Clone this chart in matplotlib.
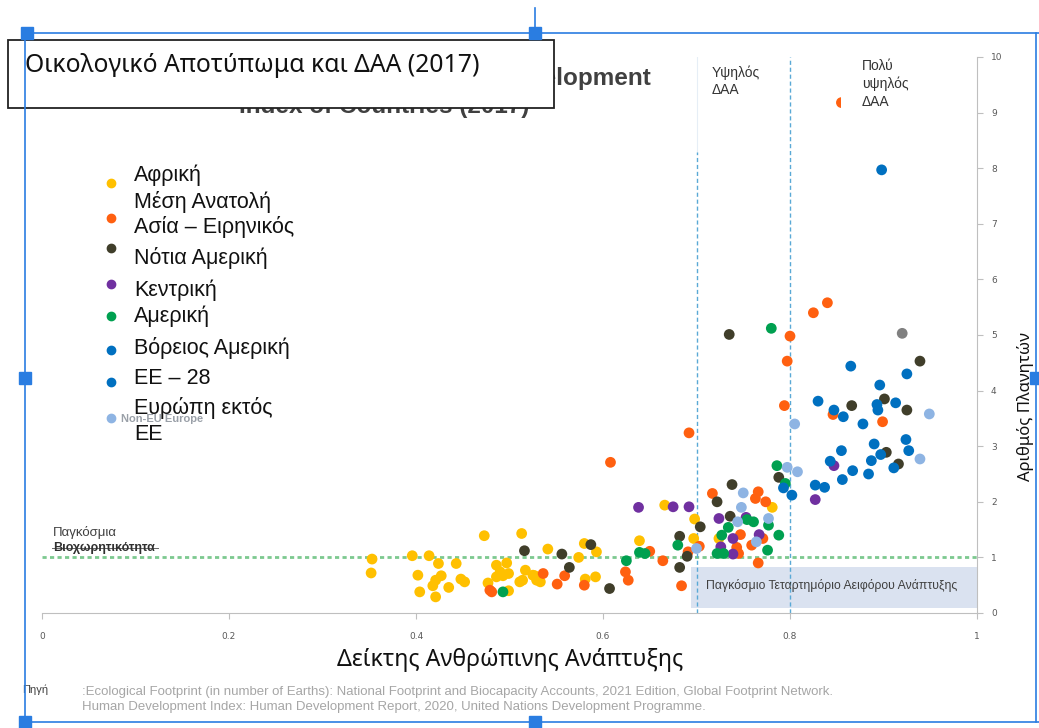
import matplotlib.pyplot as plt
from matplotlib.patches import Rectangle
from matplotlib.lines import Line2D

# ---- data (HDI, ecological footprint in number of Earths) ----
africa_hdi = [0.353, 0.352, 0.396, 0.414, 0.424, 0.402, 0.427, 0.421, 0.418, 0.404,
              0.421, 0.435, 0.443, 0.448, 0.452, 0.473, 0.477, 0.486, 0.497, 0.490,
              0.499, 0.486, 0.493, 0.499, 0.513, 0.517, 0.514, 0.511, 0.529, 0.533,
              0.527, 0.541, 0.574, 0.580, 0.593, 0.581, 0.592, 0.639, 0.666, 0.698,
              0.697, 0.724, 0.781, 0.525]
africa_ef = [0.97, 0.72, 1.03, 1.03, 0.89, 0.68, 0.67, 0.59, 0.49, 0.38,
             0.29, 0.46, 0.89, 0.61, 0.56, 1.39, 0.54, 0.86, 0.90, 0.74,
             0.71, 0.65, 0.67, 0.40, 1.43, 0.77, 0.59, 0.56, 0.59, 0.56,
             0.67, 1.15, 1.00, 1.25, 1.10, 0.61, 0.65, 1.30, 1.94, 1.69,
             1.34, 1.34, 1.90, 0.68]

mideast_hdi = [0.481, 0.479, 0.536, 0.559, 0.551, 0.580, 0.624, 0.627, 0.608, 0.650,
               0.664, 0.691, 0.684, 0.703, 0.692, 0.717, 0.766, 0.763, 0.774, 0.747,
               0.771, 0.743, 0.759, 0.745, 0.766, 0.800, 0.797, 0.794, 0.825, 0.840,
               0.846, 0.899, 0.855]
mideast_ef = [0.38, 0.41, 0.71, 0.67, 0.52, 0.50, 0.74, 0.59, 2.71, 1.11,
              0.94, 1.10, 0.49, 1.20, 3.24, 2.15, 2.18, 2.06, 2.00, 1.41,
              1.34, 1.18, 1.22, 1.07, 0.90, 4.98, 4.53, 3.73, 5.40, 5.58,
              3.57, 3.44, 9.18]

asia_hdi = [0.516, 0.556, 0.564, 0.587, 0.607, 0.682, 0.690, 0.682, 0.704, 0.722,
            0.738, 0.736, 0.735, 0.788, 0.866, 0.901, 0.925, 0.939, 0.903, 0.916]
asia_ef = [1.12, 1.06, 0.82, 1.23, 0.44, 1.38, 1.02, 0.82, 1.55, 2.00,
           2.31, 1.74, 5.01, 2.44, 3.73, 3.85, 3.65, 4.53, 2.89, 2.68]

samerica_hdi = [0.638, 0.675, 0.692, 0.724, 0.753, 0.739, 0.767, 0.726, 0.739, 0.847, 0.827]
samerica_ef = [1.90, 1.91, 1.91, 1.70, 1.72, 1.34, 1.41, 1.19, 1.06, 2.65, 2.04]

camerica_hdi = [0.493, 0.625, 0.639, 0.645, 0.680, 0.734, 0.754, 0.761, 0.777, 0.727,
                0.788, 0.722, 0.729, 0.776, 0.786, 0.795, 0.780]
camerica_ef = [0.38, 0.94, 1.09, 1.07, 1.22, 1.54, 1.68, 1.64, 1.58, 1.40,
               1.40, 1.07, 1.07, 1.13, 2.65, 2.33, 5.12]

namerica_hdi = [0.925]
namerica_ef = [4.30]

eu_hdi = [0.793, 0.802, 0.865, 0.896, 0.830, 0.893, 0.894, 0.913, 0.847, 0.857,
          0.878, 0.890, 0.924, 0.927, 0.897, 0.855, 0.843, 0.887, 0.911, 0.867,
          0.884, 0.856, 0.827, 0.837, 0.898]
eu_ef = [2.25, 2.12, 4.44, 4.10, 3.81, 3.75, 3.65, 3.78, 3.65, 3.53,
         3.40, 3.04, 3.12, 2.92, 2.85, 2.92, 2.73, 2.74, 2.61, 2.56,
         2.50, 2.40, 2.30, 2.26, 7.97]

noneu_hdi = [0.700, 0.750, 0.748, 0.744, 0.777, 0.764, 0.797, 0.808, 0.805, 0.949, 0.939]
noneu_ef = [1.16, 2.16, 1.90, 1.64, 1.70, 1.28, 2.62, 2.54, 3.40, 3.58, 2.77]

other_hdi = [0.920]
other_ef = [5.03]

series = [
    ("Αφρική", africa_hdi, africa_ef, "#FFC000"),
    ("Μέση Ανατολή", mideast_hdi, mideast_ef, "#FF6010"),
    ("Ασία – Ειρηνικός", asia_hdi, asia_ef, "#403E2A"),
    ("Νότια Αμερική", samerica_hdi, samerica_ef, "#7030A0"),
    ("Κεντρική Αμερική", camerica_hdi, camerica_ef, "#00A050"),
    ("Βόρειος Αμερική", namerica_hdi, namerica_ef, "#0070C0"),
    ("ΕΕ – 28", eu_hdi, eu_ef, "#0070C0"),
    ("Ευρώπη εκτός ΕΕ", noneu_hdi, noneu_ef, "#8EB4E3"),
    ("", other_hdi, other_ef, "#808080"),
]

legend_lines = ["Αφρική", "Μέση Ανατολή", "Ασία – Ειρηνικός", "Νότια Αμερική", "Κεντρική",
                "Αμερική", "Βόρειος Αμερική", "ΕΕ – 28", "Ευρώπη εκτός", "ΕΕ"]
legend_line_y = [175, 202, 227, 258, 290, 316, 348, 378, 408, 434]
legend_marker_y = [183, 218, 248, 284, 316, 350, 382, 418]

x_ticks = [0, 0.2, 0.4, 0.6, 0.8, 1]
x_tick_labels = ["0", "0.2", "0.4", "0.6", "0.8", "1"]
y_ticks = list(range(0, 11))

W, H = 1039, 728
GREEK = "Noto Sans"
LATIN = "Liberation Sans"


def fx(px):
    return px / W


def fy(py):
    return 1 - py / H


fig = plt.figure(figsize=(W / 100, H / 100), dpi=100)
ax = fig.add_axes([fx(42), fy(613), fx(977) - fx(42), fy(57) - fy(613)])
ax.set_xlim(0, 1)
ax.set_ylim(0, 10)

for name, xs, ys, col in series:
    ax.scatter(xs, ys, s=60, color=col, edgecolors="none", zorder=3)

# reference lines
ax.axhline(1, color="#7CC98F", lw=2, ls=(0, (1.5, 1.2)), zorder=2)
ax.axvline(0.8, color="#5AA9D6", lw=1, ls=(0, (3, 2)), zorder=2)
ax.axvline(0.7, ymax=0.83, color="#5AA9D6", lw=1, ls=(0, (3, 2)), zorder=2)
ax.axvline(0.7, ymin=0.83, color="#E6EEF6", lw=0.8, zorder=1)

# sustainable development quadrant
ax.add_patch(Rectangle((0.694, 0.09), 0.306, 0.74, facecolor="#DAE2F0",
                       edgecolor="none", zorder=1))
ax.text(0.845, 0.5, "Παγκόσμιο Τεταρτημόριο Αειφόρου Ανάπτυξης", ha="center", va="center",
        fontsize=8.8, color="#404040", family=LATIN, zorder=4)

ax.text(0.012, 1.44, "Παγκόσμια", fontsize=9.5, color="#404040", family=LATIN, va="center")
ax.text(0.012, 1.17, "Βιοχωρητικότητα", fontsize=9, color="#303030", family=LATIN,
        va="center", fontweight="bold")
ax.plot([0.011, 0.124], [1.17, 1.17], color="#666666", lw=0.7)

# axes styling
for side in ["top", "left"]:
    ax.spines[side].set_visible(False)
for side in ["bottom", "right"]:
    ax.spines[side].set_color("#BFBFBF")
ax.yaxis.tick_right()
ax.set_xticks(x_ticks)
ax.set_xticklabels(x_tick_labels)
ax.set_yticks(y_ticks)
ax.tick_params(axis="both", colors="#BFBFBF", labelcolor="#595959", labelsize=6.5, length=4)
ax.tick_params(axis="x", pad=10)
ax.tick_params(axis="y", pad=6)

fig.text(fx(510), fy(660), "Δείκτης Ανθρώπινης Ανάπτυξης", ha="center", va="center",
         fontsize=16.7, family=GREEK, color="#111111")
fig.text(fx(1025), fy(407), "Αριθμός Πλανητών", ha="center", va="center", rotation=90,
         fontsize=12, family=GREEK, color="#111111")

# HDI band labels (white boxes over the lines)
fig.patches.append(Rectangle((fx(699), fy(150)), fx(788) - fx(699), fy(52) - fy(150),
                             transform=fig.transFigure, facecolor="white", edgecolor="none", zorder=1))
fig.patches.append(Rectangle((fx(841), fy(118)), fx(935) - fx(841), fy(52) - fy(118),
                             transform=fig.transFigure, facecolor="white", edgecolor="none", zorder=1))
fig.text(fx(712), fy(81), "Υψηλός\nΔΑΑ", fontsize=10, family=LATIN, color="#333333",
         va="center", linespacing=1.25, zorder=2)
fig.text(fx(862), fy(84), "Πολύ\nυψηλός\nΔΑΑ", fontsize=10, family=LATIN, color="#333333",
         va="center", linespacing=1.3, zorder=2)

# manual legend
for (name, xs, ys, col), my in zip(series, legend_marker_y):
    fig.add_artist(Line2D([fx(111)], [fy(my)], marker="o", markersize=6, color=col, lw=0))
for txt, ly in zip(legend_lines, legend_line_y):
    fig.text(fx(134), fy(ly), txt, fontsize=15.5, family=LATIN, color="#111111", va="center")
fig.text(fx(121), fy(419), "Non-EU Europe", fontsize=8, family=LATIN, color="#9AA0A8",
         va="center", fontweight="bold")

# title (translated box on top of the original English one)
fig.text(fx(384), fy(79), "Ecological Footprint and Human Development", ha="center", va="center",
         fontsize=17.5, fontweight="bold", family=LATIN, color="#404040", zorder=5)
fig.text(fx(384), fy(106), "Index of Countries (2017)", ha="center", va="center",
         fontsize=17.5, fontweight="bold", family=LATIN, color="#404040", zorder=5)
fig.patches.append(Rectangle((fx(8), fy(108)), fx(554) - fx(8), fy(40) - fy(108),
                             transform=fig.transFigure, facecolor="white", edgecolor="#222222",
                             lw=1.3, zorder=6))
fig.text(fx(25), fy(66), "Οικολογικό Αποτύπωμα και ΔΑΑ (2017)", va="center",
         fontsize=17.8, family=GREEK, color="#111111", zorder=7)

# source
fig.text(fx(22), fy(690), "Πηγή", fontsize=8, family=LATIN, color="#404040", va="center")
fig.text(fx(82), fy(692),
         ":Ecological Footprint (in number of Earths): National Footprint and Biocapacity "
         "Accounts, 2021 Edition, Global Footprint Network.",
         fontsize=9.5, family=LATIN, color="#A6A6A6", va="center")
fig.text(fx(82), fy(707),
         "Human Development Index: Human Development Report, 2020, United Nations "
         "Development Programme.",
         fontsize=9.5, family=LATIN, color="#A6A6A6", va="center")

# slide selection frame
sel = "#2A7DE1"
for xs, ys in [((25, 1039), (33, 33)), ((25, 25), (33, 722)), ((25, 1039), (722, 722)),
               ((1036, 1036), (33, 722)), ((535, 535), (8, 33))]:
    fig.add_artist(Line2D([fx(v) for v in xs], [fy(v) for v in ys], color=sel, lw=1.2, zorder=8))
for hx, hy in [(27, 33), (535, 33), (25, 378), (25, 722), (535, 722), (1036, 378)]:
    fig.add_artist(Line2D([fx(hx)], [fy(hy)], marker="s", markersize=8, color=sel, lw=0, zorder=9))

fig.savefig("out.png", dpi=100)
